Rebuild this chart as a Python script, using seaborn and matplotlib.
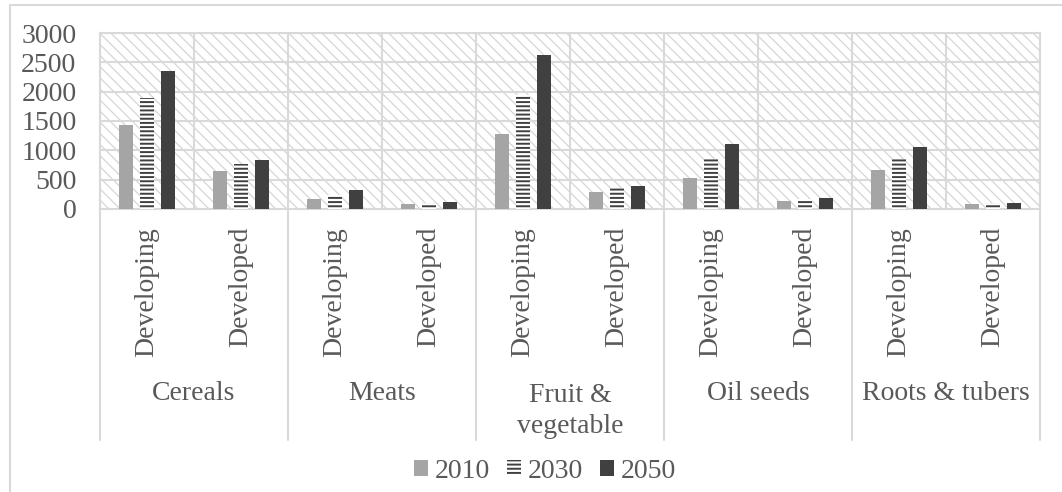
import matplotlib
matplotlib.use("Agg")
import matplotlib.pyplot as plt
from matplotlib.patches import Rectangle, Patch
from matplotlib.lines import Line2D
import matplotlib.transforms as mtransforms
import numpy as np
import pandas as pd
import seaborn as sns

# Food demand by commodity group and region (2010, 2030, 2050)
groups = ["Cereals", "Meats", "Fruit &\nvegetable", "Oil seeds", "Roots & tubers"]
regions = ["Developing", "Developed"]
years = ["2010", "2030", "2050"]
v2010 = [1440, 650, 170, 85, 1270, 295, 520, 130, 665, 90]
v2030 = [1900, 770, 240, 105, 1950, 350, 855, 165, 855, 105]
v2050 = [2350, 830, 320, 120, 2630, 395, 1100, 190, 1065, 110]
yticks = [0, 500, 1000, 1500, 2000, 2500, 3000]

sns.set_style("white")
plt.rcParams["font.family"] = ["Liberation Serif", "DejaVu Serif"]
plt.rcParams["hatch.linewidth"] = 1.4

TEXT = "#595959"
GRID = "#D9D9D9"
C2010 = "#A5A5A5"
C2050 = "#404040"


class FineHatchRect(Rectangle):
    """Rectangle whose hatch is drawn with thin lines."""
    def draw(self, renderer):
        with plt.rc_context({"hatch.linewidth": 0.9}):
            super().draw(renderer)


keys = [f"{g}|{r}" for g in groups for r in regions]
rows = []
for vals, yr in zip([v2010, v2030, v2050], years):
    for k, v in zip(keys, vals):
        rows.append({"key": k, "year": yr, "value": v})
df = pd.DataFrame(rows)

W, H = 1062, 492
fig = plt.figure(figsize=(W / 100, H / 100), dpi=100)
ax = fig.add_axes([100 / W, 1 - 209 / H, 940 / W, 176 / H])

# hatched plot-area background
with plt.rc_context({"hatch.linewidth": 0.9}):
    bg = FineHatchRect((0, 0), 1, 1, transform=ax.transAxes, facecolor="white",
                       edgecolor="#D6D6D6", hatch="\\\\\\", linewidth=0, zorder=0)
if hasattr(bg, "set_hatch_linewidth"):
    bg.set_hatch_linewidth(0.9)
ax.add_patch(bg)

sns.barplot(data=df, x="key", y="value", hue="year", order=keys,
            hue_order=years, palette=[C2010, "white", C2050],
            width=0.66, gap=0.32, saturation=1, linewidth=0,
            legend=False, ax=ax, zorder=3)

# striped 2030 series
for bar in ax.containers[1]:
    bar.set_facecolor("white")
    bar.set_edgecolor(C2050)
    bar.set_hatch("----")
    bar.set_linewidth(0)

ax.set_xlim(-0.5, len(keys) - 0.5)
ax.set_ylim(0, 3000)
ax.set_yticks(yticks)
ax.set_yticklabels([str(t) for t in yticks])
ax.set_xlabel("")
ax.set_ylabel("")

# grid
for t in yticks[1:]:
    ax.axhline(t, color=GRID, lw=1.5, zorder=1)
for i in range(len(keys) + 1):
    ax.axvline(i - 0.5, color=GRID, lw=1.5, zorder=1)
for s in ax.spines.values():
    s.set_color(GRID)
    s.set_linewidth(1.5)

ax.tick_params(axis="y", length=0, pad=17, labelsize=20, labelcolor=TEXT)
ax.set_xticks(range(len(keys)))
ax.set_xticklabels([regions[i % 2] for i in range(len(keys))],
                   rotation=90, fontsize=20, color=TEXT)
ax.tick_params(axis="x", length=0, pad=13)

# group separators and group labels below the axis
trans = mtransforms.blended_transform_factory(ax.transData, ax.transAxes)
for j in range(len(groups) + 1):
    ax.add_line(Line2D([2 * j - 0.5, 2 * j - 0.5], [0, -231 / 176],
                       transform=trans, color=GRID, lw=1.5, clip_on=False))
for j, g in enumerate(groups):
    yc = -(394 - 209) / 176 if "\n" not in g else -(411 - 209) / 176
    ax.text(2 * j + 0.5, yc, g, transform=trans, ha="center", va="center",
            fontsize=20, color=TEXT, linespacing=1.3)

# outer chart border
fig.add_artist(Line2D([10 / W, 10 / W], [0, 1 - 5 / H], transform=fig.transFigure,
                      color=GRID, lw=1.5))
fig.add_artist(Line2D([10 / W, 1], [1 - 5 / H, 1 - 5 / H], transform=fig.transFigure,
                      color=GRID, lw=1.5))

handles = [Patch(facecolor=C2010, edgecolor=C2010, linewidth=0),
           Patch(facecolor="white", edgecolor=C2050, hatch="----", linewidth=0),
           Patch(facecolor=C2050, edgecolor=C2050, linewidth=0)]
fig.legend(handles, years, loc="center", bbox_to_anchor=(545 / W, 1 - 471 / H),
           ncol=3, frameon=False, fontsize=20, labelcolor=TEXT,
           handlelength=0.5, handleheight=0.5, handletextpad=0.25,
           columnspacing=0.6, borderpad=0, borderaxespad=0)

fig.savefig("out.png", dpi=100)
